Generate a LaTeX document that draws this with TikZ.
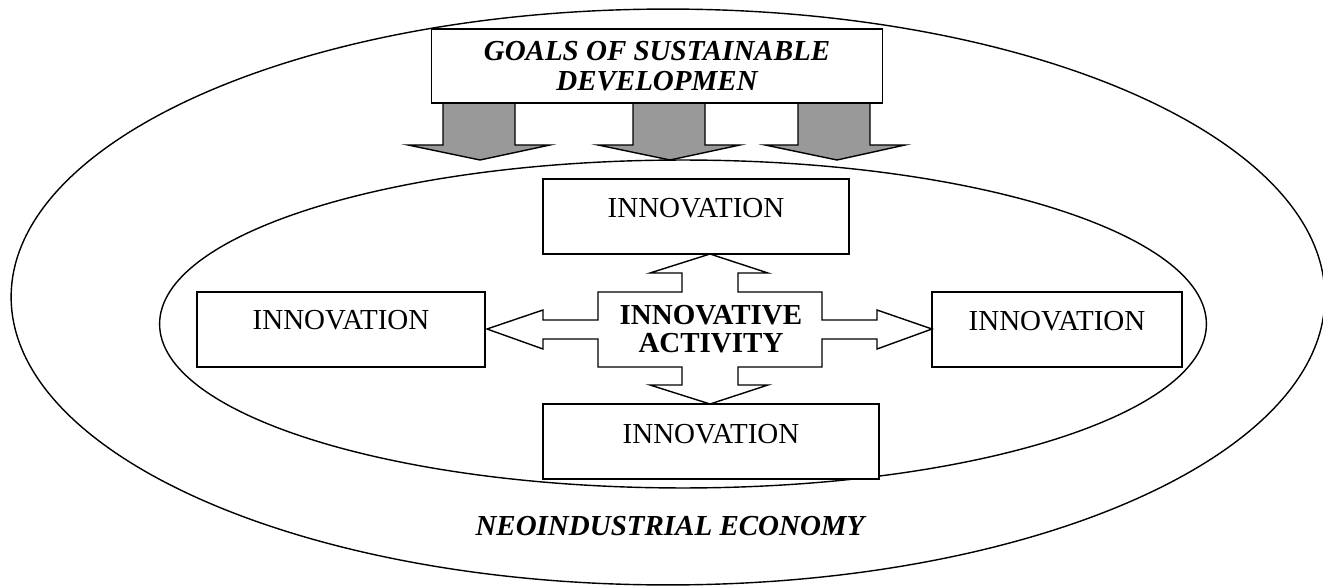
\documentclass[tikz,border=0pt]{standalone}
\usepackage{fontspec}
\setmainfont{Liberation Serif}
\definecolor{arrowgray}{RGB}{153,153,153}
\begin{document}
\begin{tikzpicture}[x=0.02cm,y=-0.02cm, line width=0.8pt,
  txt/.style={font=\fontsize{16.5}{16}\selectfont},
  box/.style={txt, draw, fill=white, inner sep=0pt, anchor=base},
  garrow/.style={draw, fill=arrowgray, line join=miter},
  cross/.style={draw, fill=white, line join=miter}]
\useasboundingbox (0,0) rectangle (1323,588);
% enclosing ellipses
\draw (668,297) ellipse [x radius=13.14cm, y radius=5.76cm];
\draw (683,324) ellipse [x radius=10.47cm, y radius=3.28cm];
% grey downward arrows
\draw[garrow] (443,103) -- (443,145) -- (408,145) -- (480,160) -- (550,145) -- (515,145) -- (515,103) -- cycle;
\draw[garrow] (633,103) -- (633,145) -- (598,145) -- (670,160) -- (740,145) -- (705,145) -- (705,103) -- cycle;
\draw[garrow] (798,103) -- (798,145) -- (765,145) -- (837,160) -- (905,145) -- (870,145) -- (870,103) -- cycle;
% goals box
\node[box, anchor=center, minimum width=9.02cm, minimum height=1.48cm, align=center,
      font=\fontsize{16.5}{16.8}\selectfont\bfseries\itshape] (goals) at (657,66)
      {GOALS OF SUSTAINABLE\\DEVELOPMEN};
% innovation boxes
\node[box, minimum width=6.12cm, text height=0.76cm, text depth=0.74cm] (it) at (696,217) {INNOVATION};
\node[box, minimum width=6.72cm, text height=0.78cm, text depth=0.72cm] (ib) at (711,443) {INNOVATION};
\node[box, minimum width=5.76cm, text height=0.74cm, text depth=0.76cm] (il) at (341,329) {INNOVATION};
\node[box, minimum width=5.00cm, text height=0.76cm, text depth=0.74cm] (ir) at (1057,330) {INNOVATION};
% four-way arrow
\draw[cross] (710,254) -- (768,273) -- (738,273) -- (738,292) -- (822,292) -- (822,320)
  -- (877,320) -- (877,310) -- (932,329) -- (877,349) -- (877,339) -- (822,339)
  -- (822,367) -- (738,367) -- (738,385) -- (768,385) -- (710,404) -- (650,385)
  -- (682,385) -- (682,367) -- (598,367) -- (598,339) -- (543,339) -- (543,349)
  -- (487,329) -- (543,310) -- (543,320) -- (598,320) -- (598,292) -- (682,292)
  -- (682,273) -- (650,273) -- cycle;
\node[txt, font=\fontsize{16.5}{16}\selectfont\bfseries, align=center, inner sep=0pt] (act) at (711,329) {INNOVATIVE\\ACTIVITY};
% outer label
\node[txt, font=\fontsize{16.5}{16}\selectfont\bfseries\itshape, inner sep=0pt] (neo) at (670,526) {NEOINDUSTRIAL ECONOMY};
\end{tikzpicture}
\end{document}
